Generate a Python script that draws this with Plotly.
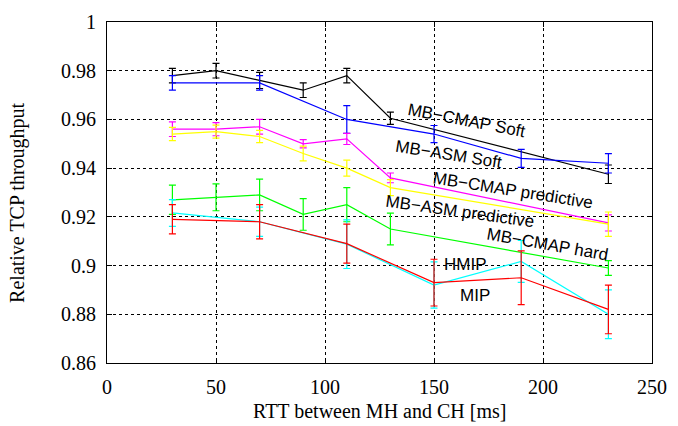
import plotly.graph_objects as go

# RTT values (ms) at which each scheme was measured
x_cmap_soft = [30, 50, 70, 90, 110, 130, 230]
x_asm_soft = [30, 70, 110, 150, 190, 230]
x_cmap_pred = [30, 50, 70, 90, 110, 130, 230]
x_asm_pred = [30, 50, 70, 90, 110, 130, 230]
x_cmap_hard = [30, 50, 70, 90, 110, 130, 230]
x_hmip = [30, 70, 110, 150, 190, 230]
x_mip = [30, 70, 110, 150, 190, 230]

# Mean relative TCP throughput
y_cmap_soft = [0.978, 0.980, 0.976, 0.972, 0.978, 0.9605, 0.9375]
y_asm_soft = [0.975, 0.975, 0.960, 0.954, 0.944, 0.942]
y_cmap_pred = [0.956, 0.956, 0.957, 0.950, 0.952, 0.936, 0.9175]
y_asm_pred = [0.954, 0.955, 0.953, 0.946, 0.940, 0.932, 0.917]
y_cmap_hard = [0.927, 0.928, 0.929, 0.921, 0.925, 0.915, 0.899]
y_hmip = [0.9216, 0.918, 0.9088, 0.892, 0.9017, 0.880]
y_mip = [0.919, 0.918, 0.909, 0.893, 0.895, 0.882]

# Confidence half-widths
e_cmap_soft = [0.003, 0.003, 0.0033, 0.003, 0.003, 0.0025, 0.0038]
e_asm_soft = [0.003, 0.003, 0.0057, 0.0035, 0.0037, 0.004]
e_cmap_pred = [0.003, 0.0027, 0.003, 0.0017, 0.0023, 0.002, 0.0033]
e_asm_pred = [0.0027, 0.0027, 0.0025, 0.003, 0.0033, 0.0033, 0.005]
e_cmap_hard = [0.006, 0.0055, 0.0065, 0.0065, 0.007, 0.0065, 0.003]
e_hmip = [0.0055, 0.006, 0.01, 0.0095, 0.0086, 0.01]
e_mip = [0.006, 0.007, 0.008, 0.0096, 0.011, 0.01]

series = [
    ("MB−CMAP Soft", x_cmap_soft, y_cmap_soft, e_cmap_soft, "#000000"),
    ("MB−ASM Soft", x_asm_soft, y_asm_soft, e_asm_soft, "#0000ff"),
    ("MB−CMAP predictive", x_cmap_pred, y_cmap_pred, e_cmap_pred, "#ff00ff"),
    ("MB−ASM predictive", x_asm_pred, y_asm_pred, e_asm_pred, "#ffff00"),
    ("MB−CMAP hard", x_cmap_hard, y_cmap_hard, e_cmap_hard, "#00ff00"),
    ("HMIP", x_hmip, y_hmip, e_hmip, "#00ffff"),
    ("MIP", x_mip, y_mip, e_mip, "#ff0000"),
]

# In-plot curve labels: (text, x, y, angle)
curve_labels = [
    ("MB−CMAP Soft", 164.7, 0.9597, 11),
    ("MB−ASM Soft", 156.8, 0.9456, 9),
    ("MB−CMAP predictive", 186.2, 0.9307, 9),
    ("MB−ASM predictive", 161.8, 0.9220, 8),
    ("MB−CMAP hard", 202.0, 0.9086, 10),
    ("HMIP", 164.5, 0.9004, 0),
    ("MIP", 169.0, 0.8877, 0),
]

fig = go.Figure()
for name, xs, ys, es, color in series:
    fig.add_trace(go.Scatter(
        x=xs, y=ys, name=name, mode="lines",
        line=dict(color=color, width=1.2),
        error_y=dict(type="data", array=es, visible=True,
                     color=color, thickness=1.2, width=3.5),
        showlegend=False,
    ))

annotations = []
for text, ax, ay, ang in curve_labels:
    annotations.append(dict(
        x=ax, y=ay, xref="x", yref="y", text=text, showarrow=False,
        textangle=ang, font=dict(family="Liberation Sans", size=17, color="#000000"),
    ))

annotations.append(dict(
    x=-0.163, y=0.47, xref="paper", yref="paper", text="Relative TCP throughput",
    showarrow=False, textangle=-90, xanchor="center", yanchor="middle",
    font=dict(family="Liberation Serif", size=20, color="#000000"),
))
annotations.append(dict(
    x=0.5, y=-0.14, xref="paper", yref="paper", text="RTT between MH and CH [ms]",
    showarrow=False, xanchor="center", yanchor="middle",
    font=dict(family="Liberation Serif", size=20, color="#000000"),
))

axis_common = dict(
    showline=True, linecolor="#000000", linewidth=1.2, mirror="ticks",
    ticks="inside", ticklen=5, tickcolor="#000000",
    showgrid=True, gridcolor="#000000", gridwidth=1, griddash="dot",
    zeroline=False,
    tickfont=dict(family="Liberation Serif", size=20, color="#000000"),
)

fig.update_layout(
    width=678, height=426,
    margin=dict(l=107, r=18, t=11, b=63),
    paper_bgcolor="#ffffff", plot_bgcolor="#ffffff",
    xaxis=dict(range=[0, 250], dtick=50, tick0=0, ticklabelstandoff=6, **axis_common),
    yaxis=dict(range=[0.86, 1.0], dtick=0.02, tick0=0.86, ticklabelstandoff=6, **axis_common),
    annotations=annotations,
)

fig.write_html("out.html")
